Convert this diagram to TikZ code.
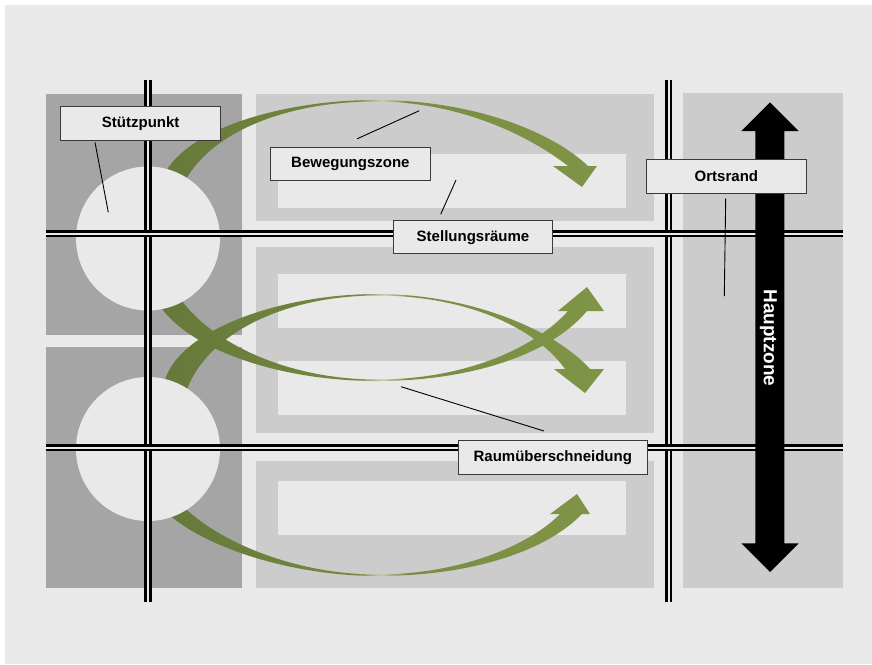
\documentclass[tikz,border=0pt]{standalone}
\usepackage{fontspec}
\setmainfont{Liberation Sans}
\usetikzlibrary{calc}

\definecolor{bgc}{HTML}{E8E9E8}
\definecolor{blockdark}{HTML}{A4A5A4}
\definecolor{panel}{HTML}{CBCCCB}
\definecolor{boxline}{HTML}{3A3A3A}
\definecolor{gA}{HTML}{66793A}
\definecolor{gM}{HTML}{74883F}
\definecolor{gP}{HTML}{C4CDA6}
\definecolor{gM2}{HTML}{7A8E43}
\definecolor{gB}{HTML}{7F9446}

% olive swoosh: dark at the start, pale where the band is thinnest, lighter at the head
\pgfdeclarehorizontalshading{swoosh}{100bp}{color(0bp)=(gA); color(25bp)=(gA); color(47bp)=(gM); color(50bp)=(gP); color(53bp)=(gM2); color(75bp)=(gB); color(100bp)=(gB)}

\tikzset{
  road/.style={draw=black, line width=2.65pt, double=bgc, double distance=2pt},
  lbl/.style={draw=boxline, line width=1pt, fill=bgc, inner sep=0pt,
    minimum width=159.5pt, minimum height=33.5pt,
    font=\bfseries\fontsize{15}{18}\selectfont},
  leader/.style={draw=black, line width=0.9pt},
  swooshfill/.style={shading=swoosh},
}

\begin{document}
\begin{tikzpicture}[x=1pt,y=-1pt]
\useasboundingbox (0,0) rectangle (872,664);
\fill[white] (0,0) rectangle (872,664);
\fill[bgc] (5,5) rectangle (872,664);

% strong points: dark blocks
\fill[blockdark] (46,94) rectangle (242,335);
\fill[blockdark] (46,347) rectangle (242,588);

% movement / position zones
\fill[panel] (256,94) rectangle (654,221);
\fill[panel] (256,247) rectangle (654,433);
\fill[panel] (256,461) rectangle (654,588);
\fill[bgc] (278,154) rectangle (626,208);
\fill[bgc] (278,274) rectangle (626,328);
\fill[bgc] (278,361) rectangle (626,415);
\fill[bgc] (278,481) rectangle (626,535);

% edge zone on the right
\fill[panel] (683,93) rectangle (843,588);

% tapered green movement arrows
\shade[swooshfill] (166.7,170) .. controls (195,125) and (290,100) .. (375,100)
  .. controls (470,100) and (550,130) .. (588,166) -- (597,166) -- (582,187) -- (553,166) -- (568,166)
  .. controls (535,140) and (465,101.5) .. (375,101.5)
  .. controls (290,101.5) and (215,130) .. (186.7,178) -- (175,190) -- cycle;

\shade[swooshfill] (160,306) .. controls (190,350) and (280,381) .. (377,381)
  .. controls (470,381) and (550,355) .. (587,311) -- (604,311) -- (587,287) -- (558,311) -- (568,311)
  .. controls (535,348) and (465,379.5) .. (377,379.5)
  .. controls (290,379.5) and (215,345) .. (181.7,300.7) -- (170,295) -- cycle;

\shade[swooshfill] (165,380) .. controls (180,330) and (280,294) .. (377,294)
  .. controls (470,294) and (555,330) .. (590,369) -- (604,369) -- (585,393) -- (554,369) -- (565,369)
  .. controls (535,327) and (465,295.5) .. (377,295.5)
  .. controls (290,295.5) and (210,330) .. (187,389) -- (175,392) -- cycle;

\shade[swooshfill] (171.7,517) .. controls (215,552) and (300,576) .. (377,576)
  .. controls (470,576) and (545,552) .. (582,514) -- (590,514) -- (577,494) -- (550,514) -- (560,514)
  .. controls (530,545) and (460,574.5) .. (377,574.5)
  .. controls (300,574.5) and (225,545) .. (187,510) -- (175,505) -- cycle;

% strong point circles
\fill[bgc] (148,238.5) circle[radius=72];
\fill[bgc] (148,449) circle[radius=72];

% roads
\coordinate (vlT) at (148,80);   \coordinate (vlB) at (148,601.7);
\coordinate (vrT) at (668.8,80); \coordinate (vrB) at (668.8,601.7);
\coordinate (htL) at (46,233.5); \coordinate (htR) at (843,233.5);
\coordinate (hbL) at (46,447.8); \coordinate (hbR) at (843,447.8);
\draw[road] (vlT) -- (vlB);
\draw[road] (vrT) -- (vrB);
\draw[road] (htL) -- (htR);
\draw[road] (hbL) -- (hbR);

% main zone double arrow
\fill[black] (755.3,131) -- (741.3,131) -- (770,102.3) -- (798.7,131) -- (784.3,131)
  -- (784.3,543.3) -- (798.7,543.3) -- (770,572) -- (741.3,543.3) -- (755.3,543.3) -- cycle;
\node[rotate=-90, text=white, font=\bfseries\fontsize{19}{22}\selectfont, inner sep=0pt] (haupt) at (768.5,338) {Hauptzone};

% leader lines
\coordinate (sA) at (95,142.3);    \coordinate (sB) at (108.3,212.3);
\coordinate (bA) at (357.3,138.7); \coordinate (bB) at (419.3,110.7);
\coordinate (stA) at (440.7,214.3); \coordinate (stB) at (456,180);
\coordinate (oA) at (725.7,198.3); \coordinate (oB) at (724.3,296);
\coordinate (rA) at (544,431);     \coordinate (rB) at (401,386.7);
\draw[leader] (sA) -- (sB);
\draw[leader] (bA) -- (bB);
\draw[leader] (stA) -- (stB);
\draw[leader] (oA) -- (oB);
\draw[leader] (rA) -- (rB);

% labels
\node[lbl] (stuetz) at (140.7,123.7) {Stützpunkt};
\node[lbl] (beweg) at (350.4,163.9) {Bewegungszone};
\node[lbl] (stell) at (473,237.2) {Stellungsräume};
\node[lbl] (orts) at (726.4,176.3) {Ortsrand};
\node[lbl, minimum width=189pt] (raum) at (552.8,457.5) {Raumüberschneidung};
\end{tikzpicture}
\end{document}
